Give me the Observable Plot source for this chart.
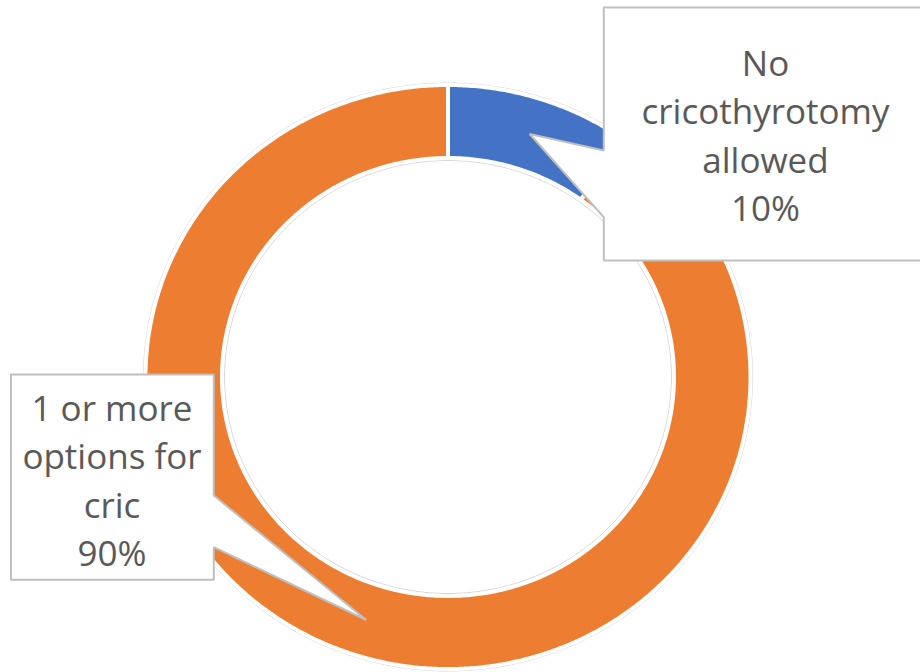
<!DOCTYPE html>
<html>
<head>
<meta charset="utf-8">
<script src="https://cdn.jsdelivr.net/npm/d3@7"></script>
<script src="https://cdn.jsdelivr.net/npm/@observablehq/plot@0.6"></script>
<style>
  html, body { margin: 0; padding: 0; background: #ffffff; }
  #chart svg { display: block; }
</style>
</head>
<body>
<div id="chart"></div>
<script>
// ---- data ----
const categories = ["No cricothyrotomy allowed", "1 or more options for cric"];
const values = [10, 90];
const colors = ["#4472C4", "#ED7D31"];
const labelLines = [["No", "cricothyrotomy", "allowed"], ["1 or more", "options for", "cric"]];

// ---- layout ----
const W = 920, H = 672;
const cx = 447.5, cy = 376.5;
const rxO = 302.5, ryO = 292, rxI = 226, ryI = 219;
const fontSize = 35, lineHeight = 1.39;
const firstOffset = 0.71 * lineHeight * fontSize; // Plot's top line anchor offset
const boxes = [
  {x0: 603.3, y0: 7,   x1: 924,   y1: 260,   side: "left",  p0: 150, p1: 216.7, tx: 765, baseline: 75},
  {x0: 10.5,  y0: 374, x1: 213.3, y1: 579.3, side: "right", p0: 495, p1: 546.7, tx: 111.5, baseline: 420}
];

const total = d3.sum(values);
const pt = (a, rx, ry) => [cx + rx * Math.sin(a), cy - ry * Math.cos(a)];

// slice polygons
const slicePts = [];
const mids = [];
let acc = 0;
values.forEach((v, i) => {
  const a0 = acc / total * 2 * Math.PI; acc += v; const a1 = acc / total * 2 * Math.PI;
  mids.push((a0 + a1) / 2);
  const n = Math.max(12, Math.ceil((a1 - a0) * 180 / Math.PI * 2));
  const poly = [];
  for (let k = 0; k <= n; k++) poly.push(pt(a0 + (a1 - a0) * k / n, rxO, ryO));
  for (let k = n; k >= 0; k--) poly.push(pt(a0 + (a1 - a0) * k / n, rxI, ryI));
  poly.push(poly[0]);
  poly.forEach(([x, y]) => slicePts.push({cat: categories[i], x, y}));
});

// faint outline rings
const ringPts = [];
[["outer", rxO + 2, ryO + 2], ["inner", rxI - 2.5, ryI - 2.5]].forEach(([k, rx, ry]) => {
  for (let j = 0; j <= 360; j++) {
    const [x, y] = pt(j * Math.PI / 180, rx, ry);
    ringPts.push({k, x, y});
  }
});

// callout polygons with pointer to slice midpoint at mid radius
const rxM = (rxO + rxI) / 2, ryM = (ryO + ryI) / 2;
const calloutPts = [];
boxes.forEach((b, i) => {
  const [tx, ty] = pt(mids[i], rxM, ryM);
  let poly;
  if (b.side === "left") {
    poly = [[b.x0, b.y0], [b.x1, b.y0], [b.x1, b.y1], [b.x0, b.y1], [b.x0, b.p1], [tx, ty], [b.x0, b.p0], [b.x0, b.y0]];
  } else {
    poly = [[b.x0, b.y0], [b.x1, b.y0], [b.x1, b.p0], [tx, ty], [b.x1, b.p1], [b.x1, b.y1], [b.x0, b.y1], [b.x0, b.y0]];
  }
  poly.forEach(([x, y]) => calloutPts.push({id: i, x, y}));
});

const labels = categories.map((c, i) => ({
  text: labelLines[i].join("\n") + "\n" + values[i] + "%",
  x: boxes[i].tx, y: boxes[i].baseline - firstOffset
}));

const chart = Plot.plot({
  width: W, height: H,
  margin: 0,
  x: {domain: [0, W], range: [0, W], axis: null},
  y: {domain: [0, H], range: [0, H], axis: null},
  color: {domain: categories, range: colors},
  style: {background: "#ffffff"},
  marks: [
    Plot.line(ringPts, {x: "x", y: "y", z: "k", stroke: "#d6d6d6", strokeWidth: 1, curve: "linear"}),
    Plot.line(slicePts, {x: "x", y: "y", z: "cat", fill: "cat", stroke: "#ffffff", strokeWidth: 4, strokeLinejoin: "miter", curve: "linear"}),
    Plot.line(calloutPts, {x: "x", y: "y", z: "id", fill: "#ffffff", stroke: "#bfbfbf", strokeWidth: 2, strokeLinejoin: "miter", curve: "linear"}),
    Plot.text(labels, {x: "x", y: "y", text: "text", textAnchor: "middle", lineAnchor: "top", lineHeight: lineHeight,
      fontSize: fontSize, fontFamily: "Open Sans", fill: "#595959"})
  ]
});
document.getElementById("chart").appendChild(chart);
</script>
</body>
</html>
